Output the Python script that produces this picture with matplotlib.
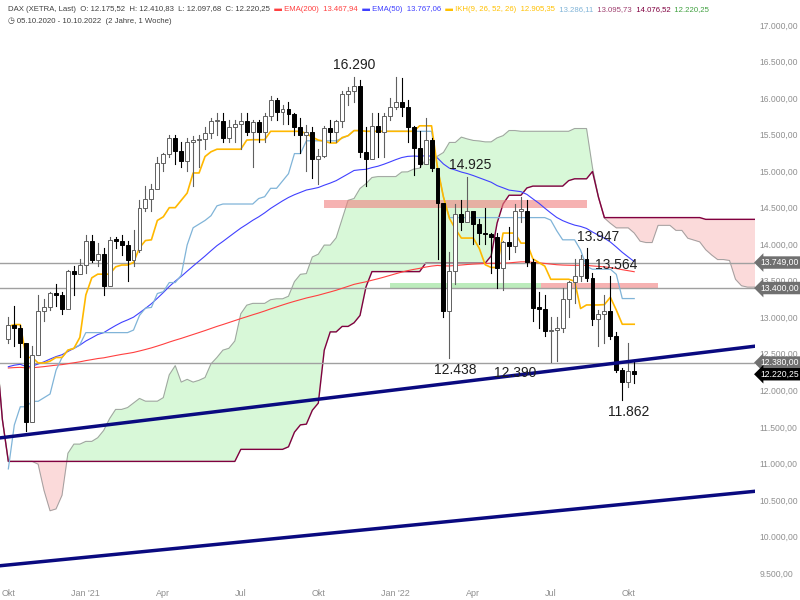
import matplotlib.pyplot as plt
import matplotlib.patches as patches
import numpy as np

plt.rcParams['font.family'] = ['Liberation Sans', 'DejaVu Sans']

# --- Data: weekly DAX, 05.10.2020 - 10.10.2022 ---
close = [12900, 12850, 12650, 11560,
         12480, 13080, 13140, 13330, 13300,
         13110, 13630, 13590, 13720,
         14050, 13790, 13870, 13430,
         14060, 14050, 13990, 13790,
         13920, 14500, 14620, 14750, 15110,
         15230, 15460, 15280, 15140,
         15400, 15420, 15440, 15520, 15690,
         15690, 15450, 15610, 15650,
         15690, 15540, 15670, 15540,
         15760, 15980, 15810, 15850, 15780,
         15610, 15490, 15530, 15160,
         15210, 15590, 15540, 15690,
         16050, 16090, 16160, 15260, 15170,
         15620, 15530, 15760, 15880,
         15950, 15880, 15600, 15320, 15100,
         15430, 15040, 14570, 13090,
         13630, 14410, 14300, 14450,
         14280, 14160, 14140, 14100,
         13670, 14030, 13980, 14460, 14460,
         13760, 13130, 13120, 12810,
         12830, 12860, 13250, 13480,
         13570, 13800, 13540, 12970, 13050,
         13090, 12740, 12280, 12110,
         12270, 12220]
high = [13000, 13150, 12900, 12650,
        12600, 13300, 13250, 13350, 13450,
        13350, 13650, 13700, 13800,
        14130, 14130, 14020, 13950,
        14100, 14100, 14130, 14050,
        14200, 14600, 14800, 14820, 15200,
        15250, 15500, 15500, 15400,
        15460, 15480, 15500, 15600, 15730,
        15800, 15800, 15700, 15700,
        15800, 15800, 15700, 15700,
        15800, 16030, 16000, 15900, 15950,
        15800, 15730, 15630, 15600,
        15300, 15620, 15700, 15700,
        16100, 16150, 16290, 16250, 15600,
        15800, 15800, 15800, 16000,
        16290, 16270, 15980, 15620, 15550,
        15730, 15450, 15000, 14500,
        13900, 14550, 14600, 14925,
        14400, 14350, 14500, 14150,
        14150, 14050, 14230, 14550, 14650,
        14600, 13800, 13350, 13300,
        13000, 13000, 13400, 13500,
        13800, 13850, 13947, 13600, 13100,
        13300, 13564, 12800, 12300,
        12650, 12410]
low = [12650, 12600, 12450, 11450,
       11650, 12480, 12950, 13100, 13150,
       13050, 13250, 13300, 13600,
       13600, 13750, 13700, 13300,
       13450, 13950, 13850, 13500,
       13700, 13900, 14450, 14450, 14800,
       15000, 15200, 15100, 15050,
       15000, 14800, 15050, 15300, 15450,
       15500, 15400, 15400, 15400,
       15300, 15500, 15060, 15400,
       15400, 15700, 15700, 15650, 15650,
       15500, 15250, 15000, 14900,
       14820, 15200, 15400, 15400,
       15600, 15900, 15950, 15200, 14800,
       15200, 15200, 15200, 15700,
       15850, 15750, 15400, 14950, 15050,
       15100, 15000, 13800, 13000,
       12438, 13450, 14200, 14350,
       14000, 14000, 14000, 13600,
       13400, 13380, 13800, 13900, 14300,
       13700, 12950, 12850, 12750,
       12390, 12400, 12800, 13000,
       13200, 13500, 13500, 12900, 12600,
       12650, 12700, 12250, 11862,
       12050, 12097]

# weekly highs/lows before the chart window (Apr 2019 - Sep 2020), used for Ichimoku
pre_high = [12050, 12050, 12250, 12350, 12400, 12250, 12250, 12150,
            12100, 12150, 12400, 12400, 12600, 12500, 12450, 12350,
            12250, 11900, 11850, 11900, 12000, 12250, 12500, 12450, 12400,
            12450, 12500, 12850, 12900, 13300, 13300, 13250, 13300,
            13300, 13300, 13450, 13350, 13320,
            13450, 13550, 13600, 13500, 13500, 13600, 13800, 13650,
            12200, 11100, 9500, 10000, 10600, 10700, 10700, 10900,
            10800, 10900, 11200, 11800, 12900, 12600, 12300, 12500,
            12700, 13000, 13300, 12950, 12800, 12900, 13000, 13150,
            13450, 13300, 13300, 12800]
pre_low = [11650, 11850, 11950, 12050, 12050, 11900, 11850, 11700,
           11620, 11900, 12050, 12200, 12300, 12300, 12250, 12150,
           11900, 11400, 11300, 11500, 11700, 11900, 12200, 12300, 12150,
           11950, 12050, 12600, 12750, 12900, 13150, 13050, 13100,
           12900, 13100, 13250, 13250, 13150,
           13000, 13350, 13300, 12900, 12950, 13300, 13550, 11700,
           11400, 9400, 8255, 8400, 9600, 10200, 10100, 10300,
           10250, 10350, 10450, 11100, 11950, 11600, 11700, 11950,
           12200, 12400, 12900, 12250, 12300, 12700, 12600, 12850,
           12850, 12950, 12350, 12400]

x_ticks = [0, 13, 26, 39, 52, 65, 78, 91, 104]
x_labels = ['Okt', "Jan '21", 'Apr', 'Jul', 'Okt', "Jan '22", 'Apr', 'Jul', 'Okt']
y_ticks = [9500, 10000, 10500, 11000, 11500, 12000, 12500, 13000, 13500,
           14000, 14500, 15000, 15500, 16000, 16500, 17000]
h_levels = [13749, 13400, 12380]
notes = [(58, 16290, '16.290', 'bottom'), (77.5, 14925, '14.925', 'bottom'),
         (99, 13947, '13.947', 'bottom'), (102, 13564, '13.564', 'bottom'),
         (75, 12438, '12.438', 'top'), (85, 12390, '12.390', 'top'),
         (104, 11862, '11.862', 'top')]

def de(v):
    return f'{v:,.2f}'.replace(',', 'X').replace('.', ',').replace('X', '.')

# --- Indicators ---
n = len(close)
x = np.arange(n)

def ema(vals, span, seed):
    a = 2 / (span + 1)
    out, e = [], seed
    for v in vals:
        e = e + a * (v - e)
        out.append(e)
    return np.array(out)

ema200 = ema(close, 200, 12300)
ema50 = ema(close, 50, 12300)

hh = np.array(pre_high + high, float)
ll = np.array(pre_low + low, float)
off = len(pre_high)

def mid(p):
    return np.array([(hh[max(0, i - p + 1):i + 1].max() + ll[max(0, i - p + 1):i + 1].min()) / 2
                     for i in range(len(hh))])

tenkan = mid(9)
kijun = mid(26)
span_a = (tenkan + kijun) / 2
span_b = mid(52)
# cloud shifted 26 weeks forward
cx = np.arange(len(hh)) - off + 26
sel = cx >= -2
cx, ca, cb = cx[sel], span_a[sel], span_b[sel]

# --- Plot ---
fig = plt.figure(figsize=(8, 6), dpi=100)
ax = fig.add_axes([0, 0.025, 0.944, 0.975])
ax.set_xlim(-1.4, 125.3)
ax.set_ylim(9336, 17342)

ax.fill_between(cx, ca, cb, where=ca >= cb, color='#d8f8d8', interpolate=True, zorder=1)
ax.fill_between(cx, ca, cb, where=ca < cb, color='#fbdada', interpolate=True, zorder=1)
ax.plot(cx, ca, color='#a0a0a0', lw=0.7, zorder=2)
ax.plot(cx, cb, color='#800040', lw=1.0, zorder=2)

# zones
ax.add_patch(patches.Rectangle((52.9, 14500), 44.2, 110, color='#f08080', alpha=0.6, lw=0, zorder=2))
ax.add_patch(patches.Rectangle((64, 13400), 25.3, 75, color='#90e090', alpha=0.6, lw=0, zorder=2))
ax.add_patch(patches.Rectangle((89.3, 13400), 19.7, 75, color='#f08080', alpha=0.6, lw=0, zorder=2))

for lv in h_levels:
    ax.axhline(lv, color='#a0a0a0', lw=1, zorder=2)

ax.plot(x, ema200, color='#ff4040', lw=0.8, zorder=3)
ax.plot(x, ema50, color='#4040ff', lw=0.8, zorder=3)
ax.plot(x, kijun[off:], color='#80b4d8', lw=0.9, zorder=3)
ax.plot(x, tenkan[off:], color='#ffb800', lw=1.2, zorder=3)

# candles
opn = [close[0] - 200] + close[:-1]
for i in range(n):
    o, c = opn[i], close[i]
    up = c >= o
    ax.plot([i, i], [low[i], high[i]], color='#606060' if up else 'black', lw=0.8, zorder=4)
    ax.add_patch(patches.Rectangle((i - 0.33, min(o, c)), 0.66, max(abs(c - o), 15),
                                   facecolor='white' if up else 'black',
                                   edgecolor='#606060' if up else 'black', lw=0.7, zorder=5))

# trend lines
ax.plot([-1.34, 132.9], [11350, 12680], color='#0a0a80', lw=2.5, zorder=6)
ax.plot([-1.34, 132.9], [9600, 10680], color='#0a0a80', lw=2.5, zorder=6)

for xi, yi, t, va in notes:
    ax.text(xi, yi + (60 if va == 'bottom' else -60), t, ha='center', va=va, fontsize=10, color='#202020', zorder=7)

ax.yaxis.tick_right()
ax.set_yticks(y_ticks)
ax.set_yticklabels([de(v) for v in y_ticks], fontsize=6.2, color='#909090')
ax.set_xticks(x_ticks)
ax.set_xticklabels(x_labels, fontsize=6.5, color='#909090')
ax.tick_params(length=0, pad=3)
for s in ax.spines.values():
    s.set_visible(False)

# right price tags
for lv, fc in [(13749, '#707070'), (13400, '#707070'), (12380, '#707070'), (12220.25, 'black')]:
    ax.annotate(de(lv), xy=(1.0, lv), xycoords=('axes fraction', 'data'), xytext=(4, 0),
                textcoords='offset points', va='center', ha='left', fontsize=6.2, color='white',
                bbox=dict(boxstyle='larrow,pad=0.2', fc=fc, ec='none'), zorder=8, annotation_clip=False)

# header
parts = [('DAX (XETRA, Last)  O: 12.175,52  H: 12.410,83  L: 12.097,68  C: 12.220,25', '#404040'),
         ('  ▬ EMA(200)  13.467,94', '#ff4040'), ('  ▬ EMA(50)  13.767,06', '#4040ff'),
         ('  ▬ IKH(9, 26, 52, 26)  12.905,35', '#ffc000'), ('  13.286,11', '#80b4d8'),
         ('  13.095,73', '#a04070'), ('  14.076,52', '#800040'), ('  12.220,25', '#40a040')]
xp = 0.01
for t, c in parts:
    tx = fig.text(xp, 0.984, t, fontsize=5.6, color=c, va='center')
    fig.canvas.draw()
    bb = tx.get_window_extent()
    xp = bb.x1 / fig.bbox.width
fig.text(0.01, 0.964, '◷ 05.10.2020 - 10.10.2022  (2 Jahre, 1 Woche)', fontsize=5.6, color='#404040', va='center')

fig.savefig('out.png', dpi=100)
